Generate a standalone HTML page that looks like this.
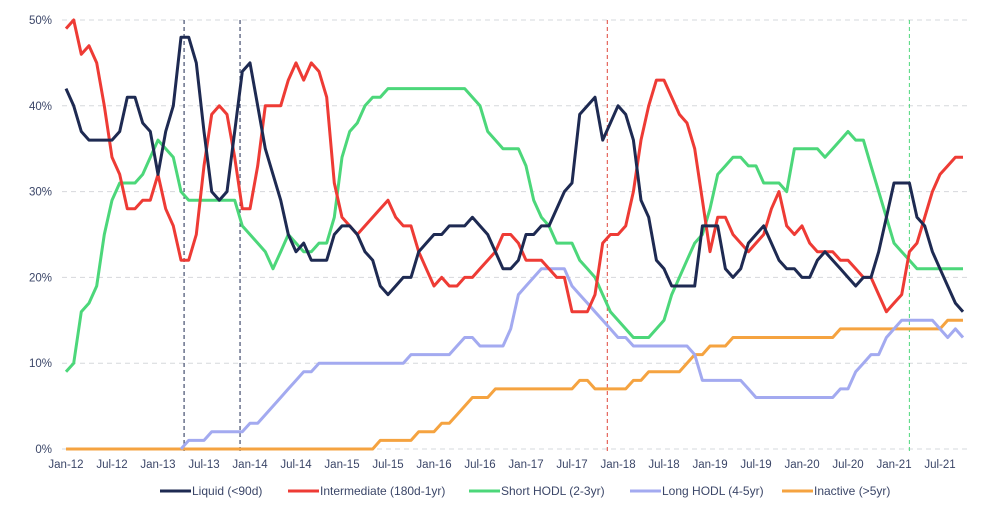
<!DOCTYPE html>
<html><head><meta charset="utf-8">
<style>
body{margin:0;background:#fff;}
svg{display:block;font-family:"Liberation Sans",sans-serif;}
</style></head>
<body>
<svg id="chart" width="990" height="516"></svg>
<script>
const tickLabels=["Jan-12","Jul-12","Jan-13","Jul-13","Jan-14","Jul-14","Jan-15","Jul-15","Jan-16","Jul-16","Jan-17","Jul-17","Jan-18","Jul-18","Jan-19","Jul-19","Jan-20","Jul-20","Jan-21","Jul-21"];
const yTicks=[0,10,20,30,40,50];
const liquid=[42,40,37,36,36,36,36,37,41,41,38,37,32,37,40,48,48,45,37,30,29,30,37,44,45,40,35,32,29,25,23,24,22,22,22,25,26,26,25,23,22,19,18,19,20,20,23,24,25,25,26,26,26,27,26,25,23,21,21,22,25,25,26,26,28,30,31,39,40,41,36,38,40,39,36,29,27,22,21,19,19,19,19,26,26,26,21,20,21,24,25,26,24,22,21,21,20,20,22,23,22,21,20,19,20,20,23,27,31,31,31,27,26,23,21,19,17,16];
const intermediate=[49,50,46,47,45,40,34,32,28,28,29,29,32,28,26,22,22,25,33,39,40,39,34,28,28,33,40,40,40,43,45,43,45,44,41,31,27,26,25,26,27,28,29,27,26,26,23,21,19,20,19,19,20,20,21,22,23,25,25,24,22,22,22,21,20,20,16,16,16,18,24,25,25,26,30,36,40,43,43,41,39,38,35,29,23,27,27,25,24,23,24,25,28,30,26,25,26,24,23,23,23,22,22,21,20,20,18,16,17,18,23,24,27,30,32,33,34,34];
const shortHodl=[9,10,16,17,19,25,29,31,31,31,32,34,36,35,34,30,29,29,29,29,29,29,29,26,25,24,23,21,23,25,24,23,23,24,24,27,34,37,38,40,41,41,42,42,42,42,42,42,42,42,42,42,42,41,40,37,36,35,35,35,33,29,27,26,24,24,24,22,21,20,18,16,15,14,13,13,13,14,15,18,20,22,24,25,28,32,33,34,34,33,33,31,31,31,30,35,35,35,35,34,35,36,37,36,36,33,30,27,24,23,22,21,21,21,21,21,21,21];
const longHodl=[null,null,null,null,null,null,null,null,null,null,null,null,null,null,null,0,1,1,1,2,2,2,2,2,3,3,4,5,6,7,8,9,9,10,10,10,10,10,10,10,10,10,10,10,10,11,11,11,11,11,11,12,13,13,12,12,12,12,14,18,19,20,21,21,21,21,19,18,17,16,15,14,13,13,12,12,12,12,12,12,12,12,11,8,8,8,8,8,8,7,6,6,6,6,6,6,6,6,6,6,6,7,7,9,10,11,11,13,14,15,15,15,15,15,14,13,14,13];
const inactive=[0,0,0,0,0,0,0,0,0,0,0,0,0,0,0,0,0,0,0,0,0,0,0,0,0,0,0,0,0,0,0,0,0,0,0,0,0,0,0,0,0,1,1,1,1,1,2,2,2,3,3,4,5,6,6,6,7,7,7,7,7,7,7,7,7,7,7,8,8,7,7,7,7,7,8,8,9,9,9,9,9,10,11,11,12,12,12,13,13,13,13,13,13,13,13,13,13,13,13,13,13,14,14,14,14,14,14,14,14,14,14,14,14,14,14,15,15,15];
const eventMonths=[15.4,22.7,70.6,110];
const eventColors=["#1e2a52","#1e2a52","#e0453a","#4cd77a"];

const NS="http://www.w3.org/2000/svg";
const svg=document.getElementById('chart');
const X0=66, PXM=7.667, Y0=449, PXP=8.58;
const xs=m=>X0+m*PXM;
const ys=v=>Y0-v*PXP;
function mk(tag,attrs,parent){const e=document.createElementNS(NS,tag);for(const k in attrs)e.setAttribute(k,attrs[k]);(parent||svg).appendChild(e);return e;}

const grid=mk('g',{});


yTicks.forEach(t=>{
  const l=mk('line',{x1:62,x2:970,y1:ys(t),y2:ys(t),stroke:'#d6d8dc','stroke-width':1,'stroke-dasharray':'5,4'},grid);
  
  
  const tx=mk('text',{x:52,y:ys(t)+4,'text-anchor':'end','font-size':11.5,fill:'#3b4668'});
  tx.textContent=t+'%';
  
  
});
tickLabels.forEach((lab,i)=>{
  const tx=mk('text',{x:xs(i*6),y:468,'text-anchor':'middle','font-size':11.5,fill:'#3b4668'});
  tx.textContent=lab;
  
  
});
eventMonths.forEach((m,i)=>{
  const l=mk('line',{x1:xs(m),x2:xs(m),y1:ys(50),y2:Y0+4,stroke:eventColors[i],'stroke-width':1,'stroke-dasharray':'4,3'});
  
  
});
const series=[
 {d:inactive,c:'#f5a340',n:'series-inactive'},
 {d:longHodl,c:'#a3aaf0',n:'series-long-hodl'},
 {d:shortHodl,c:'#4cd77a',n:'series-short-hodl'},
 {d:intermediate,c:'#ee3b35',n:'series-intermediate'},
 {d:liquid,c:'#1e2a52',n:'series-liquid'}
];
series.forEach(s=>{
  let p='';let pen=false;
  s.d.forEach((v,i)=>{if(v===null){pen=false;return;}p+=(pen?'L':'M')+xs(i).toFixed(1)+','+ys(v).toFixed(1);pen=true;});
  const e=mk('path',{d:p,fill:'none',stroke:s.c,'stroke-width':3,'stroke-linejoin':'round'});
  
  
});
const legend=[["Liquid (<90d)",'#1e2a52',160],["Intermediate (180d-1yr)",'#ee3b35',288],["Short HODL (2-3yr)",'#4cd77a',469],["Long HODL (4-5yr)",'#a3aaf0',630],["Inactive (>5yr)",'#f5a340',782]];
legend.forEach(([t,c,x])=>{
  const g=mk('g',{});
  
  
  mk('line',{x1:x,x2:x+31,y1:491,y2:491,stroke:c,'stroke-width':3},g);
  const tx=mk('text',{x:x+32,y:495,'font-size':12,fill:'#3b4668'},g);
  tx.textContent=t;
});
</script>
</body></html>
